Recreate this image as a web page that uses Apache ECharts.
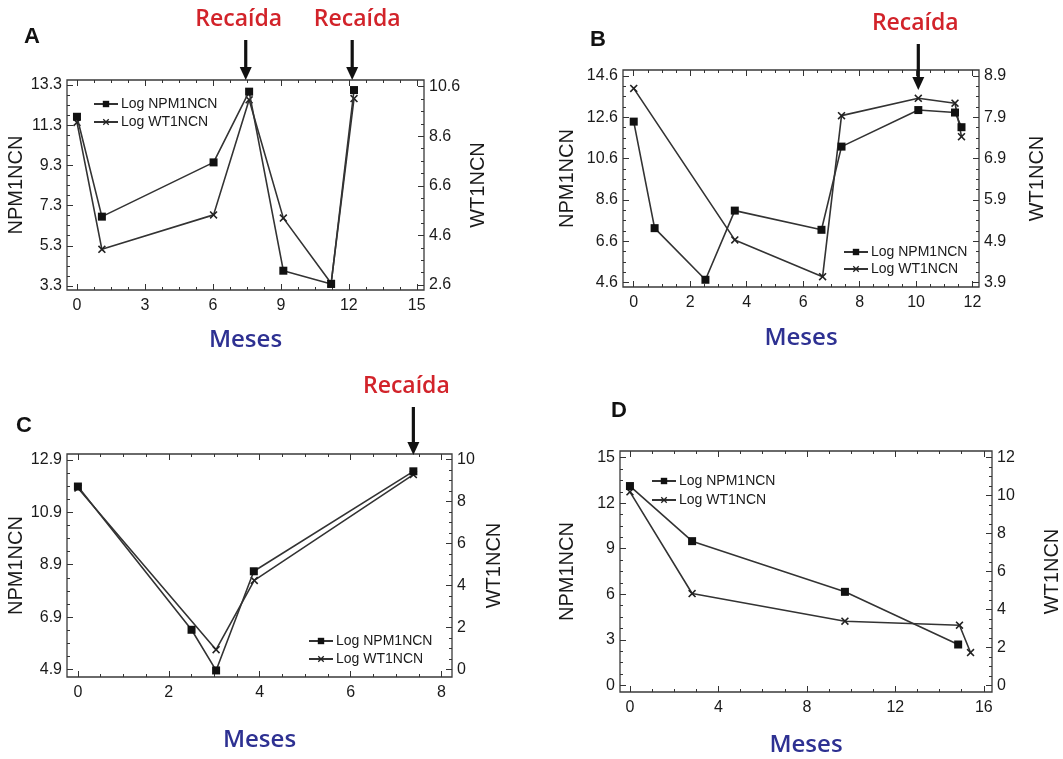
<!DOCTYPE html>
<html>
<head>
<meta charset="utf-8">
<script src="https://cdn.jsdelivr.net/npm/echarts@6/dist/echarts.min.js"></script>
<style>
  html, body { margin: 0; padding: 0; background: #fff; }
  #chart { width: 1063px; height: 759px; }
</style>
</head>
<body>
<div id="chart"></div>
<script>
// ---- Panel A ----
const mesesA = [0, 1.1, 6.03, 7.6, 9.11, 11.22, 12.23];
const npm1A = [11.72, 6.75, 9.45, 12.97, 4.06, 3.4, 13.05];
const wt1A = [9.16, 4.04, 5.43, 10.07, 5.3, 2.67, 10.12];
const recaidaA = [7.45, 12.15];
const xTicksA = [0, 3, 6, 9, 12, 15];
const npmTicksA = [3.3, 5.3, 7.3, 9.3, 11.3, 13.3];
const wtTicksA = [2.6, 4.6, 6.6, 8.6, 10.6];

// ---- Panel B ----
const mesesB_npm = [0, 0.74, 2.54, 3.58, 6.65, 7.36, 10.08, 11.38, 11.61];
const npm1B = [12.39, 7.23, 4.73, 8.08, 7.15, 11.18, 12.95, 12.83, 12.12];
const mesesB_wt = [0, 3.58, 6.69, 7.36, 10.08, 11.38, 11.61];
const wt1B = [8.6, 4.93, 4.04, 7.94, 8.36, 8.24, 7.43];
const recaidaB = [10.08];
const xTicksB = [0, 2, 4, 6, 8, 10, 12];
const npmTicksB = [4.6, 6.6, 8.6, 10.6, 12.6, 14.6];
const wtTicksB = [3.9, 4.9, 5.9, 6.9, 7.9, 8.9];

// ---- Panel C ----
const mesesC_npm = [0, 2.5, 3.04, 3.87, 7.38];
const npm1C = [11.88, 6.42, 4.87, 8.65, 12.46];
const mesesC_wt = [0, 3.04, 3.88, 7.38];
const wt1C = [8.65, 0.95, 4.25, 9.29];
const recaidaC = [7.38];
const xTicksC = [0, 2, 4, 6, 8];
const npmTicksC = [4.9, 6.9, 8.9, 10.9, 12.9];
const wtTicksC = [0, 2, 4, 6, 8, 10];

// ---- Panel D ----
const mesesD_npm = [0, 2.81, 9.72, 14.84];
const npm1D = [13.13, 9.5, 6.16, 2.69];
const mesesD_wt = [0, 2.81, 9.72, 14.9, 15.4];
const wt1D = [10.2, 4.84, 3.38, 3.17, 1.73];
const xTicksD = [0, 4, 8, 12, 16];
const npmTicksD = [0, 3, 6, 9, 12, 15];
const wtTicksD = [0, 2, 4, 6, 8, 10, 12];

const NPM_NAME = 'Log NPM1NCN';
const WT_NAME = 'Log WT1NCN';

// Layout of the four panels (pixel boxes and axis extents)
const panels = [
  { letter: 'A', box: [67, 80, 357, 210], letterPos: [24, 37],
    mx: mesesA, npm: npm1A, mxw: mesesA, wt: wt1A,
    xT: xTicksA, nT: npmTicksA, wT: wtTicksA,
    xr: [-0.44, 15.32], nr: [3.1, 13.55], wr: [2.4, 10.87],
    mesesGap: 38, leftGap: 32, rightGap: 44, legend: [88, 92, 4],
    relapse: recaidaA, arrow: { top: 40, tip: 80, dx: [-7, 5] } },
  { letter: 'B', box: [623, 70, 356, 217], letterPos: [590, 40],
    mx: mesesB_npm, npm: npm1B, mxw: mesesB_wt, wt: wt1B,
    xT: xTicksB, nT: npmTicksB, wT: wtTicksB,
    xr: [-0.38, 12.23], nr: [4.38, 14.89], wr: [3.79, 9.045],
    mesesGap: 39, leftGap: 46, rightGap: 48, legend: [838, 240, 3],
    relapse: recaidaB, arrow: { top: 44, tip: 90, dx: [-3] } },
  { letter: 'C', box: [67, 454, 385, 223], letterPos: [16, 426],
    mx: mesesC_npm, npm: npm1C, mxw: mesesC_wt, wt: wt1C,
    xT: xTicksC, nT: npmTicksC, wT: wtTicksC,
    xr: [-0.24, 8.23], nr: [4.62, 13.12], wr: [-0.35, 10.27],
    mesesGap: 51, leftGap: 34, rightGap: 32, legend: [303, 629, 4],
    relapse: recaidaC, arrow: { top: 407, tip: 455, dx: [-7] } },
  { letter: 'D', box: [620, 451, 373, 241], letterPos: [611, 411],
    mx: mesesD_npm, npm: npm1D, mxw: mesesD_wt, wt: wt1D,
    xT: xTicksD, nT: npmTicksD, wT: wtTicksD,
    xr: [-0.45, 16.37], nr: [-0.44, 15.44], wr: [-0.35, 12.35],
    mesesGap: 41, leftGap: 43, rightGap: 50, legend: [646, 469, 5],
    relapse: [], arrow: null }
];

const TICK_FONT = 'Liberation Sans, Arial, sans-serif';
const TITLE_FONT = '"Open Sans", "DejaVu Sans", sans-serif';
const tickLabel = { fontSize: 16, color: '#1a1a1a', fontFamily: TICK_FONT };
const tickLine = { color: '#333', width: 1 };

// minor tick positions: four subdivisions per major step
function minorTicks(majors, lo, hi) {
  const step = (majors[1] - majors[0]) / 4;
  const out = [];
  for (let v = majors[0] - step; v >= lo - 1e-9; v -= step) out.push(+v.toFixed(4));
  for (let v = majors[0] + step; v <= hi + 1e-9; v += step) out.push(+v.toFixed(4));
  return out.filter(v => !majors.some(m => Math.abs(m - v) < 1e-6));
}

// X cross marker used for the WT1 series
const crossPath = 'path://M0,1.4L1.4,0L5,3.6L8.6,0L10,1.4L6.4,5L10,8.6L8.6,10L5,6.4L1.4,10L0,8.6L3.6,5Z';

const grid = [], xAxis = [], yAxis = [], series = [], legend = [], graphic = [];
const baseX = [];
const noLine = { show: false, onZero: false };

panels.forEach((p, g) => {
  grid.push({ left: p.box[0], top: p.box[1], width: p.box[2], height: p.box[3],
    show: true, borderColor: '#3a3a3a', borderWidth: 1.3, backgroundColor: 'transparent',
    containLabel: false });

  const xMinor = minorTicks(p.xT, p.xr[0], p.xr[1]);
  const nMinor = minorTicks(p.nT, p.nr[0], p.nr[1]);
  const wMinor = minorTicks(p.wT, p.wr[0], p.wr[1]);

  const xBase = { gridIndex: g, type: 'value', min: p.xr[0], max: p.xr[1],
    axisLine: noLine, splitLine: { show: false } };
  baseX.push(xAxis.length);
  xAxis.push(Object.assign({}, xBase, {
    position: 'bottom',
    axisTick: { show: true, inside: true, length: 6, customValues: p.xT, lineStyle: tickLine },
    axisLabel: Object.assign({ customValues: p.xT, margin: 8 }, tickLabel),
    name: 'Meses', nameLocation: 'middle', nameGap: p.mesesGap,
    nameTextStyle: { fontSize: 24, fontWeight: 600, color: '#2e3192', fontFamily: TITLE_FONT }
  }));
  xAxis.push(Object.assign({}, xBase, { position: 'bottom',
    axisTick: { show: true, inside: true, length: 3, customValues: xMinor, lineStyle: tickLine },
    axisLabel: { show: false } }));
  xAxis.push(Object.assign({}, xBase, { position: 'top',
    axisTick: { show: true, inside: true, length: 6, customValues: p.xT, lineStyle: tickLine },
    axisLabel: { show: false } }));
  xAxis.push(Object.assign({}, xBase, { position: 'top',
    axisTick: { show: true, inside: true, length: 3, customValues: xMinor, lineStyle: tickLine },
    axisLabel: { show: false } }));

  const nBase = { gridIndex: g, type: 'value', min: p.nr[0], max: p.nr[1],
    axisLine: noLine, splitLine: { show: false } };
  const wBase = { gridIndex: g, type: 'value', min: p.wr[0], max: p.wr[1],
    axisLine: noLine, splitLine: { show: false } };
  const leftIdx = yAxis.length;
  yAxis.push(Object.assign({}, nBase, { position: 'left',
    axisTick: { show: true, inside: true, length: 6, customValues: p.nT, lineStyle: tickLine },
    axisLabel: Object.assign({ customValues: p.nT, margin: 5 }, tickLabel),
    name: 'NPM1NCN', nameLocation: 'middle', nameGap: p.leftGap,
    nameTextStyle: { fontSize: 20, color: '#1a1a1a', fontFamily: TICK_FONT } }));
  yAxis.push(Object.assign({}, nBase, { position: 'left',
    axisTick: { show: true, inside: true, length: 3, customValues: nMinor, lineStyle: tickLine },
    axisLabel: { show: false } }));
  const rightIdx = yAxis.length;
  yAxis.push(Object.assign({}, wBase, { position: 'right',
    axisTick: { show: true, inside: true, length: 6, customValues: p.wT, lineStyle: tickLine },
    axisLabel: Object.assign({ customValues: p.wT, margin: 5 }, tickLabel),
    name: 'WT1NCN', nameLocation: 'middle', nameGap: p.rightGap,
    nameTextStyle: { fontSize: 20, color: '#1a1a1a', fontFamily: TICK_FONT } }));
  yAxis.push(Object.assign({}, wBase, { position: 'right',
    axisTick: { show: true, inside: true, length: 3, customValues: wMinor, lineStyle: tickLine },
    axisLabel: { show: false } }));

  series.push({
    name: NPM_NAME, type: 'line', xAxisIndex: baseX[g], yAxisIndex: leftIdx,
    data: p.mx.map((x, i) => [x, p.npm[i]]),
    symbol: 'rect', symbolSize: 8, showAllSymbol: true,
    itemStyle: { color: '#111' }, lineStyle: { color: '#333', width: 1.6 },
    z: 3, animation: false
  });
  series.push({
    name: WT_NAME, type: 'line', xAxisIndex: baseX[g], yAxisIndex: rightIdx,
    data: p.mxw.map((x, i) => [x, p.wt[i]]),
    symbol: crossPath, symbolSize: 8, showAllSymbol: true,
    itemStyle: { color: '#222' }, lineStyle: { color: '#333', width: 1.6 },
    z: 2, animation: false
  });

  legend.push({
    data: [NPM_NAME, WT_NAME], orient: 'vertical',
    left: p.legend[0], top: p.legend[1], itemGap: p.legend[2],
    itemWidth: 24, itemHeight: 8, selectedMode: false,
    textStyle: { fontSize: 14, color: '#1a1a1a', fontFamily: TICK_FONT, padding: [0, 0, 0, -2] }
  });

  graphic.push({ type: 'text', left: p.letterPos[0], top: p.letterPos[1] - 11,
    style: { text: p.letter, font: 'bold 22px "Liberation Sans", Arial, sans-serif', fill: '#111' } });
});

const chart = echarts.init(document.getElementById('chart'), null, { renderer: 'canvas' });
chart.setOption({
  backgroundColor: '#ffffff',
  animation: false,
  grid, xAxis, yAxis, series, legend, graphic
});

// Relapse arrows, placed at the relapse month through the panel's x axis
const arrows = [];
panels.forEach((p, g) => {
  if (!p.arrow) return;
  p.relapse.forEach((m, k) => {
    const px = chart.convertToPixel({ xAxisIndex: baseX[g] }, m);
    const a = p.arrow;
    arrows.push({ type: 'line', shape: { x1: px, y1: a.top, x2: px, y2: a.tip - 10 },
      style: { stroke: '#111', lineWidth: 3.2 } });
    arrows.push({ type: 'polygon', shape: { points: [[px - 6, a.tip - 13], [px + 6, a.tip - 13], [px, a.tip]] },
      style: { fill: '#111' } });
    arrows.push({ type: 'text', x: px + (a.dx[k] || 0), y: a.top - 21,
      style: { text: 'Recaída', font: '600 23px "Open Sans", "DejaVu Sans", sans-serif', fill: '#d2232a',
        align: 'center', verticalAlign: 'middle', textAlign: 'center', textVerticalAlign: 'middle' } });
  });
});
chart.setOption({ graphic: graphic.concat(arrows) });
</script>
</body>
</html>
